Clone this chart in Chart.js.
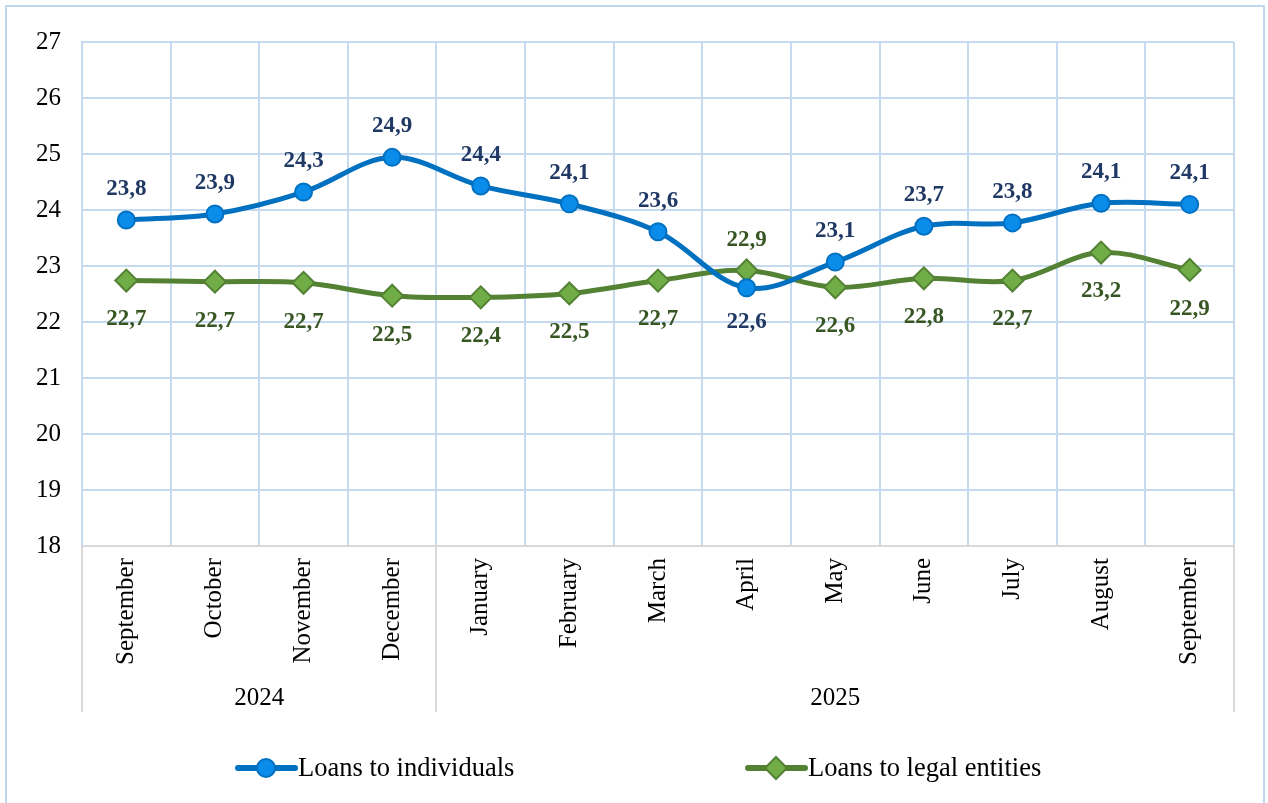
<!DOCTYPE html>
<html>
<head>
<meta charset="utf-8">
<script src="https://cdn.jsdelivr.net/npm/chart.js@4"></script>
<style>
  html, body { margin: 0; padding: 0; background: #fff; }
  #wrap { width: 1268px; height: 803px; }
</style>
</head>
<body>
<div id="wrap"><canvas id="loansChart" width="1268" height="803"></canvas></div>
<script>
const months = ['September', 'October', 'November', 'December', 'January', 'February', 'March', 'April', 'May', 'June', 'July', 'August', 'September'];
const yearLabels = ['2024', '2025'];
const yearSpans = [4, 9];
const individuals = [23.82, 23.93, 24.32, 24.94, 24.43, 24.11, 23.61, 22.61, 23.07, 23.71, 23.77, 24.12, 24.10];
const legalEntities = [22.74, 22.72, 22.70, 22.47, 22.44, 22.51, 22.74, 22.92, 22.62, 22.78, 22.74, 23.24, 22.93];
const yTicks = [18, 19, 20, 21, 22, 23, 24, 25, 26, 27];

const SERIF = '"Liberation Serif", "Times New Roman", serif';
const gridBlue = '#C5DAEE';
const axisGray = '#D9D9D9';

const fmt = v => v.toFixed(1).replace('.', ',');

// data labels, year row, frame and legend
const extras = {
  id: 'extras',
  beforeDraw(chart) {
    const ctx = chart.ctx;
    ctx.save();
    ctx.fillStyle = '#fff';
    ctx.fillRect(0, 0, chart.width, chart.height);
    ctx.strokeStyle = '#BDD7EE';
    ctx.lineWidth = 2;
    ctx.strokeRect(6, 6, 1258, 820);
    ctx.restore();
  },
  afterDraw(chart) {
    const ctx = chart.ctx;
    const x = chart.scales.x;
    const area = chart.chartArea;
    ctx.save();

    // year row
    const step = x.getPixelForValue(1) - x.getPixelForValue(0);
    const bottom = area.bottom + 166;
    ctx.strokeStyle = axisGray;
    ctx.lineWidth = 2;
    let start = 0;
    const edges = [area.left];
    yearSpans.forEach((n, i) => {
      const x0 = x.getPixelForValue(start) - step / 2;
      const x1 = x.getPixelForValue(start + n - 1) + step / 2;
      edges.push(x1);
      ctx.fillStyle = '#000';
      ctx.font = '25px ' + SERIF;
      ctx.textAlign = 'center';
      ctx.textBaseline = 'middle';
      ctx.fillText(yearLabels[i], (x0 + x1) / 2, 698);
      start += n;
    });
    edges.forEach(ex => {
      ctx.beginPath();
      ctx.moveTo(Math.round(ex), area.bottom);
      ctx.lineTo(Math.round(ex), bottom);
      ctx.stroke();
    });

    // data labels
    const ds0 = chart.getDatasetMeta(0).data;
    const ds1 = chart.getDatasetMeta(1).data;
    ctx.font = 'bold 23px ' + SERIF;
    ctx.textAlign = 'center';
    ctx.textBaseline = 'middle';
    individuals.forEach((v, i) => {
      const above = v >= legalEntities[i];
      ctx.fillStyle = '#1F3864';
      ctx.fillText(fmt(v), ds0[i].x, ds0[i].y + (above ? -31 : 34));
    });
    legalEntities.forEach((v, i) => {
      const above = v > individuals[i];
      ctx.fillStyle = '#375623';
      ctx.fillText(fmt(v), ds1[i].x, ds1[i].y + (above ? -30 : 39));
    });

    // legend
    const items = [
      { label: chart.data.datasets[0].label, x: 238, ds: chart.data.datasets[0] },
      { label: chart.data.datasets[1].label, x: 748, ds: chart.data.datasets[1] }
    ];
    const ly = 768;
    items.forEach(it => {
      ctx.strokeStyle = it.ds.borderColor;
      ctx.lineWidth = 6;
      ctx.lineCap = 'round';
      ctx.beginPath();
      ctx.moveTo(it.x, ly);
      ctx.lineTo(it.x + 57, ly);
      ctx.stroke();
      const cx = it.x + 28;
      ctx.fillStyle = it.ds.pointBackgroundColor;
      ctx.strokeStyle = it.ds.pointBorderColor;
      ctx.lineWidth = 2;
      ctx.beginPath();
      if (it.ds.pointStyle === 'rectRot') {
        const r = 11;
        ctx.moveTo(cx, ly - r); ctx.lineTo(cx + r, ly); ctx.lineTo(cx, ly + r); ctx.lineTo(cx - r, ly); ctx.closePath();
      } else {
        ctx.arc(cx, ly, 9, 0, Math.PI * 2);
      }
      ctx.fill();
      ctx.stroke();
      ctx.fillStyle = '#000';
      ctx.font = '26.5px ' + SERIF;
      ctx.textAlign = 'left';
      ctx.textBaseline = 'middle';
      ctx.fillText(it.label, it.x + 60, ly + 1);
    });
    ctx.restore();
  }
};

new Chart(document.getElementById('loansChart').getContext('2d'), {
  type: 'line',
  data: {
    labels: months,
    datasets: [
      {
        label: 'Loans to individuals',
        data: individuals,
        borderColor: '#0070C0',
        borderWidth: 5,
        pointStyle: 'circle',
        pointRadius: 8.5,
        pointBackgroundColor: '#0A8CEB',
        pointBorderColor: '#0070C0',
        pointBorderWidth: 2,
        tension: 0.35
      },
      {
        label: 'Loans to legal entities',
        data: legalEntities,
        borderColor: '#548235',
        borderWidth: 5,
        pointStyle: 'rectRot',
        pointRadius: 11,
        pointBackgroundColor: '#70AD47',
        pointBorderColor: '#548235',
        pointBorderWidth: 2,
        tension: 0.35
      }
    ]
  },
  options: {
    responsive: false,
    animation: false,
    layout: { padding: { left: 0, top: 42, right: 34, bottom: 91 } },
    plugins: { legend: { display: false }, tooltip: { enabled: false } },
    scales: {
      x: {
        offset: true,
        grid: { offset: true, color: gridBlue, lineWidth: 2, drawTicks: false },
        border: { color: axisGray, width: 2 },
        ticks: {
          autoSkip: false, minRotation: 90, maxRotation: 90, padding: 12,
          color: '#000', font: { family: SERIF, size: 25 }
        },
        afterFit(scale) { scale.height = 166; }
      },
      y: {
        min: 18,
        max: 27,
        afterBuildTicks(scale) { scale.ticks = yTicks.map(v => ({ value: v })); },
        grid: { color: gridBlue, lineWidth: 2, drawTicks: false },
        border: { color: gridBlue, width: 2 },
        ticks: { padding: 21, color: '#000', font: { family: SERIF, size: 25 } },
        afterFit(scale) { scale.width = 82; }
      }
    }
  },
  plugins: [extras]
});
</script>
</body>
</html>
